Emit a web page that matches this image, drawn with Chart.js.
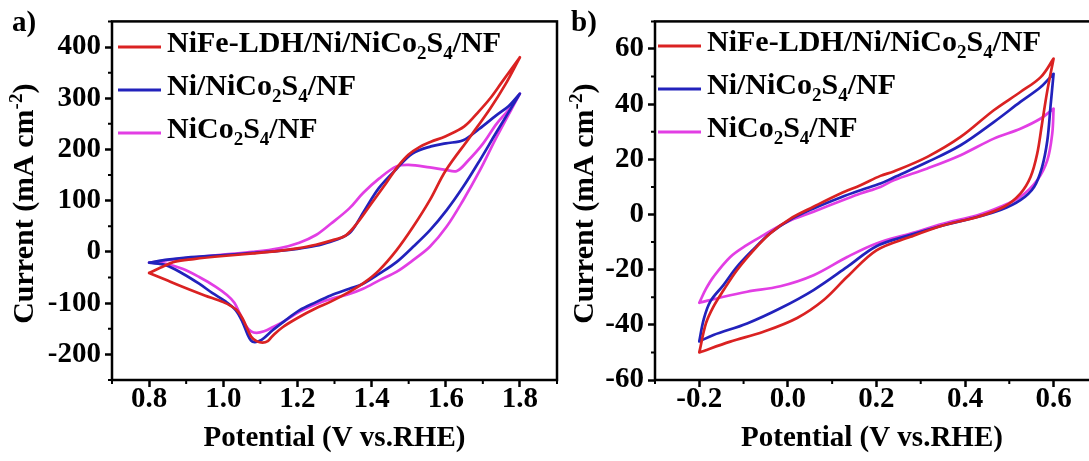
<!DOCTYPE html>
<html>
<head>
<meta charset="utf-8">
<script src="https://cdn.jsdelivr.net/npm/chart.js@4.4.1/dist/chart.umd.min.js"></script>
<style>
  body { margin: 0; background: #fff; }
  #wrap { position: relative; width: 1089px; height: 461px; overflow: hidden; }
  canvas { position: absolute; top: 0; }
</style>
</head>
<body>
<div id="wrap">
  <canvas id="chartA" width="560" height="461" style="left:0px"></canvas>
  <canvas id="chartB" width="529" height="461" style="left:560px"></canvas>
</div>
<script>
// legend names, "_x" = subscript
const seriesLabels = ['NiFe-LDH/Ni/NiCo_2S_4/NF', 'Ni/NiCo_2S_4/NF', 'NiCo_2S_4/NF'];
const seriesColors = ['#da2222', '#2222bc', '#e23ee4'];

// ---------- panel a: potential (V) / current (mA cm-2), forward then reverse scan ----------
const aRedV = [0.80, 0.83, 0.87, 0.92, 1.00, 1.08, 1.15, 1.20, 1.25, 1.30, 1.33, 1.36, 1.40, 1.44, 1.47, 1.50, 1.53, 1.56, 1.60, 1.65, 1.69, 1.72, 1.75, 1.80,
  1.76, 1.72, 1.665, 1.60, 1.557, 1.512, 1.467, 1.42, 1.38, 1.34, 1.29, 1.25, 1.205, 1.16, 1.133, 1.12, 1.106, 1.09, 1.075, 1.052, 1.034, 1.00, 0.95, 0.89, 0.85, 0.80];
const aRedI = [-41, -31, -19, -14, -8, -3, 2, 7, 14, 24, 32, 55, 95, 135, 166, 190, 205, 215, 226, 245, 275, 300, 330, 380,
  326, 280, 224, 159, 101, 49, 3, -36, -60, -78, -97, -110, -127, -147, -164, -174, -177, -174, -165, -130, -112, -98, -85, -68, -56, -41];

const aBlueV = [0.80, 0.85, 0.90, 1.00, 1.08, 1.15, 1.20, 1.25, 1.29, 1.32, 1.345, 1.38, 1.42, 1.467, 1.51, 1.56, 1.60, 1.647, 1.69, 1.737, 1.77, 1.80,
  1.737, 1.692, 1.647, 1.602, 1.557, 1.512, 1.467, 1.422, 1.377, 1.34, 1.29, 1.25, 1.205, 1.165, 1.133, 1.11, 1.097, 1.085, 1.075, 1.065, 1.052, 1.034, 1.007, 0.97, 0.935, 0.89, 0.845, 0.80];
const aBlueI = [-21, -15, -11, -6, -2, 2, 6, 12, 20, 28, 40, 80, 125, 162, 192, 206, 212, 218, 240, 267, 285, 309,
  234, 179, 127, 81, 42, 10, -20, -42, -62, -72, -85, -98, -114, -135, -153, -168, -174, -176, -173, -160, -137, -114, -97, -80, -62, -42, -26, -21];

const aMagV = [0.80, 0.85, 0.90, 1.00, 1.08, 1.15, 1.205, 1.25, 1.29, 1.34, 1.377, 1.42, 1.467, 1.50, 1.557, 1.60, 1.63, 1.66, 1.70, 1.737, 1.77, 1.80,
  1.737, 1.692, 1.647, 1.602, 1.557, 1.512, 1.467, 1.422, 1.377, 1.34, 1.29, 1.25, 1.205, 1.165, 1.133, 1.11, 1.09, 1.075, 1.06, 1.045, 1.03, 1.01, 0.98, 0.935, 0.89, 0.845, 0.80];
const aMagI = [-21, -16, -12, -5, 0, 7, 18, 33, 55, 85, 115, 143, 167, 170, 165, 160, 158, 178, 211, 250, 278, 309,
  224, 159, 101, 49, 10, -16, -39, -55, -72, -82, -92, -102, -117, -135, -147, -155, -158, -155, -143, -121, -99, -84, -68, -49, -33, -23, -21];

// ---------- panel b ----------
const bRedV = [-0.20, -0.185, -0.168, -0.145, -0.115, -0.077, -0.04, 0.006, 0.058, 0.119, 0.164, 0.209, 0.239, 0.315, 0.39, 0.465, 0.525, 0.571, 0.60,
  0.586, 0.574, 0.563, 0.548, 0.525, 0.488, 0.428, 0.352, 0.277, 0.20, 0.134, 0.081, 0.021, -0.055, -0.13, -0.20];
const bRedI = [-50, -39.5, -33.4, -27.4, -20.2, -12.9, -6.9, -1.5, 2.8, 7.6, 10.6, 14, 15.6, 20.9, 28.1, 37.8, 44.4, 49.8, 56.5,
  45, 33, 22, 13.6, 7.6, 2.8, -0.9, -3.9, -8.1, -13, -22.6, -31, -37.5, -42.5, -46.1, -50];

const bBlueV = [-0.20, -0.19, -0.175, -0.145, -0.115, -0.077, -0.04, 0.006, 0.058, 0.119, 0.164, 0.209, 0.239, 0.315, 0.39, 0.465, 0.525, 0.571, 0.60,
  0.593, 0.586, 0.574, 0.556, 0.525, 0.48, 0.428, 0.352, 0.277, 0.20, 0.134, 0.058, -0.017, -0.092, -0.168, -0.20];
const bBlueI = [-46, -38, -31.5, -25.5, -19, -12.5, -6.8, -1.8, 2.2, 6.2, 8.8, 11.2, 13.4, 19, 25.1, 33.5, 40.8, 46.2, 51,
  39, 26.9, 17.2, 10, 5.2, 1.6, -0.9, -3.9, -7.4, -11.5, -19, -27.4, -34, -39.5, -43.7, -46];

const bMagV = [-0.20, -0.185, -0.168, -0.13, -0.093, -0.055, -0.002, 0.058, 0.134, 0.164, 0.209, 0.239, 0.315, 0.39, 0.465, 0.525, 0.571, 0.60,
  0.597, 0.586, 0.563, 0.525, 0.48, 0.428, 0.352, 0.277, 0.20, 0.134, 0.058, -0.017, -0.092, -0.145, -0.20];
const bMagI = [-32, -27, -22.6, -15.4, -11.1, -7.5, -2.7, 1.0, 5.8, 7.6, 10, 12.4, 16.7, 21.5, 27.5, 31.1, 34.8, 38.4,
  29.3, 19.7, 12.4, 6.4, 2.8, -0.3, -3.3, -6.9, -10.5, -15.4, -22, -26, -28, -29.8, -32];

// tick labels
const aXTicks = [0.8, 1.0, 1.2, 1.4, 1.6, 1.8];
const aYTicks = [-200, -100, 0, 100, 200, 300, 400];
const bXTicks = [-0.2, 0.0, 0.2, 0.4, 0.6];
const bYTicks = [-60, -40, -20, 0, 20, 40, 60];

const FONT = "'Liberation Serif', 'Times New Roman', serif";

// vertex of the scan is doubled so the spline keeps a sharp turn there
function toPoints(vs, is) {
  let turn = 0;
  vs.forEach((v, k) => { if (v > vs[turn]) turn = k; });
  const pts = [];
  vs.forEach((v, k) => {
    pts.push({ x: v, y: is[k] });
    if (k === turn) pts.push({ x: v, y: is[k] });
  });
  return pts;
}

// text with _x subscripts / ^x superscripts
function runs(str) {
  const out = [];
  let buf = '';
  for (let k = 0; k < str.length; k++) {
    const c = str[k];
    if (c === '_' || c === '^') {
      if (buf) out.push({ t: buf, s: 0 });
      buf = '';
      let t = str[k + 1];
      k++;
      if (c === '^' && t === '-') { t += str[k + 1]; k++; }
      out.push({ t: t, s: c === '_' ? 1 : -1 });
    } else buf += c;
  }
  if (buf) out.push({ t: buf, s: 0 });
  return out;
}

function drawRuns(ctx, str, x, y, size) {
  const small = Math.round(size * 0.64);
  runs(str).forEach(r => {
    ctx.font = 'bold ' + (r.s ? small : size) + 'px ' + FONT;
    const dy = r.s === 1 ? size * 0.24 : (r.s === -1 ? -size * 0.38 : 0);
    ctx.fillText(r.t, x, y + dy);
    x += ctx.measureText(r.t).width;
  });
  return x;
}

function runsWidth(ctx, str, size) {
  const small = Math.round(size * 0.64);
  let w = 0;
  runs(str).forEach(r => {
    ctx.font = 'bold ' + (r.s ? small : size) + 'px ' + FONT;
    w += ctx.measureText(r.t).width;
  });
  return w;
}

const framePlugin = {
  id: 'frame',
  afterDraw(chart, args, o) {
    const ctx = chart.ctx;
    const a = chart.chartArea;
    ctx.save();
    ctx.strokeStyle = '#000';
    ctx.fillStyle = '#000';
    ctx.lineWidth = 2.5;
    const right = o.openRight ? a.right + 20 : a.right;
    ctx.strokeRect(a.left, a.top, right - a.left, a.bottom - a.top);

    // minor ticks halfway between the labelled ones
    ctx.lineWidth = 2;
    ['x', 'y'].forEach(id => {
      const sc = chart.scales[id];
      const t = sc.ticks.map(k => k.value);
      const step = t[1] - t[0];
      ctx.beginPath();
      for (let v = t[0] - step / 2; v <= sc.max + 1e-9; v += step) {
        if (v < sc.min - 1e-9) continue;
        const p = sc.getPixelForValue(v);
        if (id === 'x') { ctx.moveTo(p, a.bottom); ctx.lineTo(p, a.bottom + 4); }
        else { ctx.moveTo(a.left, p); ctx.lineTo(a.left - 4, p); }
      }
      ctx.stroke();
    });

    // legend
    ctx.textBaseline = 'alphabetic';
    ctx.textAlign = 'left';
    chart.data.datasets.forEach((ds, i) => {
      const y = o.legendTop + i * 43;
      ctx.strokeStyle = ds.borderColor;
      ctx.lineWidth = 2.8;
      ctx.beginPath();
      ctx.moveTo(a.left + o.legendX, y);
      ctx.lineTo(a.left + o.legendX + 43, y);
      ctx.stroke();
      drawRuns(ctx, ds.label, a.left + o.legendX + 49, y + 5, 30);
    });

    // y title, rotated
    const title = 'Current (mA cm^-2)';
    const w = runsWidth(ctx, title, 30);
    ctx.save();
    ctx.translate(o.yTitleX, (a.top + a.bottom) / 2 + 3);
    ctx.rotate(-Math.PI / 2);
    drawRuns(ctx, title, -w / 2, 0, 30);
    ctx.restore();

    // panel letter
    ctx.font = 'bold 29px ' + FONT;
    ctx.fillText(o.letter, o.letterX, 31);
    ctx.restore();
  }
};

function makeChart(id, p) {
  const axis = (min, max, ticks, fmt, fit, pad) => ({
    type: 'linear',
    min: min,
    max: max,
    afterBuildTicks: sc => { sc.ticks = ticks.map(v => ({ value: v })); },
    afterFit: fit,
    border: { display: false },
    grid: { drawOnChartArea: false, drawTicks: true, tickLength: 7, tickWidth: 2.5, tickColor: '#000' },
    ticks: { color: '#000', padding: pad, font: { family: FONT, size: 29, weight: 'bold' }, callback: fmt }
  });
  const xAxis = axis(p.xMin, p.xMax, p.xTicks, v => v.toFixed(1), sc => { sc.height = 81; }, -5);
  xAxis.title = { display: true, text: 'Potential (V vs.RHE)', color: '#000', padding: { top: 0, bottom: 5 },
    font: { family: FONT, size: 29, weight: 'bold' } };
  const yAxis = axis(p.yMin, p.yMax, p.yTicks, v => String(v), sc => { sc.width = p.yWidth; }, 4);

  return new Chart(document.getElementById(id), {
    type: 'scatter',
    data: {
      datasets: p.series.map((s, i) => ({
        label: seriesLabels[i],
        data: toPoints(s[0], s[1]),
        showLine: true,
        borderColor: seriesColors[i],
        borderWidth: 2.7,
        borderJoinStyle: 'round',
        borderCapStyle: 'round',
        pointRadius: 0,
        tension: 0.35,
        fill: false
      }))
    },
    options: {
      responsive: false,
      animation: false,
      events: [],
      layout: { padding: { top: 21, right: p.padRight, left: 0, bottom: 0 } },
      plugins: {
        legend: { display: false },
        tooltip: { enabled: false },
        frame: p.frame
      },
      scales: { x: xAxis, y: yAxis }
    },
    plugins: [framePlugin]
  });
}

makeChart('chartA', {
  series: [[aRedV, aRedI], [aBlueV, aBlueI], [aMagV, aMagI]],
  xMin: 0.7, xMax: 1.9, yMin: -250, yMax: 450,
  xTicks: aXTicks, yTicks: aYTicks,
  yWidth: 112, padRight: 3,
  frame: { openRight: false, legendTop: 47, legendX: 6, yTitleX: 33, letter: 'a)', letterX: 12 }
});

makeChart('chartB', {
  series: [[bRedV, bRedI], [bBlueV, bBlueI], [bMagV, bMagI]],
  xMin: -0.3, xMax: 0.68, yMin: -60, yMax: 70,
  xTicks: bXTicks, yTicks: bYTicks,
  yWidth: 95, padRight: 0,
  frame: { openRight: true, legendTop: 46, legendX: 3, yTitleX: 33, letter: 'b)', letterX: 11 }
});
</script>
</body>
</html>
